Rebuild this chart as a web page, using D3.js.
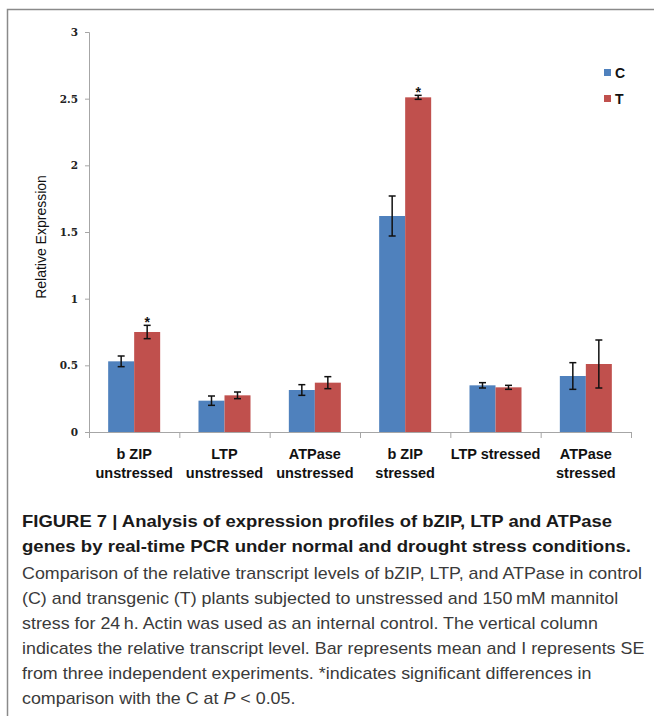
<!DOCTYPE html>
<html>
<head>
<meta charset="utf-8">
<script src="https://cdn.jsdelivr.net/npm/d3@7"></script>
<style>
  body { margin: 0; background: #fff; }
  svg { display: block; }
</style>
</head>
<body>
<svg id="fig" width="654" height="716"></svg>
<script>
// chart values
const categories = ['b ZIP unstressed', 'LTP unstressed', 'ATPase unstressed', 'b ZIP stressed', 'LTP stressed', 'ATPase stressed']
const categoryLines = [['b ZIP', 'unstressed'], ['LTP', 'unstressed'], ['ATPase', 'unstressed'], ['b ZIP', 'stressed'], ['LTP stressed'], ['ATPase', 'stressed']]
const seriesNames = ['C', 'T']
const valuesC = [0.53, 0.235, 0.315, 1.62, 0.35, 0.42]
const errorsC = [0.04, 0.035, 0.04, 0.15, 0.02, 0.10]
const valuesT = [0.75, 0.275, 0.37, 2.51, 0.335, 0.51]
const errorsT = [0.05, 0.025, 0.045, 0.015, 0.015, 0.18]
const significant = [true, false, false, true, false, false]
const yTicks = [0, 0.5, 1, 1.5, 2, 2.5, 3]

const captionBold = [
  'FIGURE 7 | Analysis of expression profiles of bZIP, LTP and ATPase',
  'genes by real-time PCR under normal and drought stress conditions.'
]
const captionBody = [
  'Comparison of the relative transcript levels of bZIP, LTP, and ATPase in control',
  '(C) and transgenic (T) plants subjected to unstressed and 150\u2009mM mannitol',
  'stress for 24\u2009h. Actin was used as an internal control. The vertical column',
  'indicates the relative transcript level. Bar represents mean and I represents SE',
  'from three independent experiments. *indicates significant differences in',
  'comparison with the C at <tspan font-style="italic">P</tspan> &lt; 0.05.'
]

const colors = { C: '#4f81bd', T: '#c0504d' }
const svg = d3.select('#fig')

// frame
svg.append('path')
  .attr('d', 'M7.5,716 V9.5 H654')
  .attr('fill', 'none').attr('stroke', '#8a8a8a').attr('stroke-width', 1.5)

const plotLeft = 89, plotRight = 631, plotTop = 32, plotBottom = 432

const x0 = d3.scaleBand().domain(categories).range([plotLeft, plotRight]).padding(0)
const x1 = d3.scaleBand().domain(seriesNames).range([0, x0.bandwidth()]).paddingInner(0).paddingOuter(0.737)
const y = d3.scaleLinear().domain([0, 3]).range([plotBottom, plotTop])

const rows = categories.map((c, i) => ({
  cat: c,
  bars: [
    { s: 'C', v: valuesC[i], e: errorsC[i] },
    { s: 'T', v: valuesT[i], e: errorsT[i] }
  ],
  sig: significant[i]
}))

// y axis
const yAxis = svg.append('g').attr('transform', `translate(${plotLeft},0)`)
  .call(d3.axisLeft(y).tickValues(yTicks).tickFormat(d => d).tickSize(4).tickPadding(7))
yAxis.select('.domain').attr('stroke', '#a6a6a6')
yAxis.selectAll('.tick line').attr('stroke', '#a6a6a6')
yAxis.selectAll('.tick text')
  .attr('font-family', '"DejaVu Serif", "Liberation Serif", serif')
  .attr('font-weight', 'bold').attr('font-size', 10.5).attr('fill', '#222')

// x axis with ticks on category boundaries
const xg = svg.append('g')
xg.append('line').attr('x1', plotLeft).attr('x2', plotRight).attr('y1', plotBottom + 0.5).attr('y2', plotBottom + 0.5)
  .attr('stroke', '#a6a6a6')
xg.selectAll('line.tk').data(categories.concat(['end']))
  .join('line').attr('class', 'tk')
  .attr('x1', (d, i) => i < categories.length ? x0(d) + 0.5 : plotRight + 0.5)
  .attr('x2', (d, i) => i < categories.length ? x0(d) + 0.5 : plotRight + 0.5)
  .attr('y1', plotBottom).attr('y2', plotBottom + 6)
  .attr('stroke', '#a6a6a6')

xg.selectAll('text.cat').data(rows)
  .join('text').attr('class', 'cat')
  .attr('x', d => x0(d.cat) + x0.bandwidth() / 2)
  .attr('y', 459)
  .attr('text-anchor', 'middle')
  .attr('font-family', '"Liberation Sans", Arial, sans-serif')
  .attr('font-weight', 'bold').attr('font-size', 14.5).attr('fill', '#111')
  .each(function (d, i) {
    d3.select(this).selectAll('tspan').data(categoryLines[i]).join('tspan')
      .attr('x', x0(d.cat) + x0.bandwidth() / 2)
      .attr('dy', (t, j) => j === 0 ? 0 : 18.5)
      .text(t => t)
  })

// bars
const groups = svg.selectAll('g.grp').data(rows).join('g').attr('class', 'grp')
  .attr('transform', d => `translate(${x0(d.cat)},0)`)

groups.selectAll('rect').data(d => d.bars).join('rect')
  .attr('x', d => x1(d.s))
  .attr('y', d => y(d.v))
  .attr('width', x1.bandwidth())
  .attr('height', d => y(0) - y(d.v))
  .attr('fill', d => colors[d.s])

// error bars
const eb = groups.selectAll('g.err').data(d => d.bars).join('g').attr('class', 'err')
  .attr('stroke', '#111').attr('stroke-width', 1.5)
eb.append('line')
  .attr('x1', d => x1(d.s) + x1.bandwidth() / 2).attr('x2', d => x1(d.s) + x1.bandwidth() / 2)
  .attr('y1', d => y(d.v + d.e)).attr('y2', d => y(d.v - d.e))
eb.append('line')
  .attr('x1', d => x1(d.s) + x1.bandwidth() / 2 - 3.5).attr('x2', d => x1(d.s) + x1.bandwidth() / 2 + 3.5)
  .attr('y1', d => y(d.v + d.e)).attr('y2', d => y(d.v + d.e))
eb.append('line')
  .attr('x1', d => x1(d.s) + x1.bandwidth() / 2 - 3.5).attr('x2', d => x1(d.s) + x1.bandwidth() / 2 + 3.5)
  .attr('y1', d => y(d.v - d.e)).attr('y2', d => y(d.v - d.e))

// significance marks
groups.filter(d => d.sig).append('text')
  .attr('x', d => x1('T') + x1.bandwidth() / 2)
  .attr('y', d => y(d.bars[1].v + d.bars[1].e) + 2)
  .attr('text-anchor', 'middle')
  .attr('font-family', '"Liberation Sans", Arial, sans-serif')
  .attr('font-weight', 'bold').attr('font-size', 14).attr('fill', '#111')
  .text('*')

// y label
svg.append('text')
  .attr('transform', 'translate(46,237) rotate(-90)')
  .attr('text-anchor', 'middle')
  .attr('font-family', '"Liberation Sans", Arial, sans-serif')
  .attr('font-size', 14).attr('fill', '#111')
  .text('Relative Expression')

// legend
const legend = svg.append('g').attr('transform', 'translate(604,69)')
legend.selectAll('g').data(seriesNames).join('g')
  .attr('transform', (d, i) => `translate(0,${i * 26})`)
  .each(function (d) {
    const g = d3.select(this)
    g.append('rect').attr('width', 7).attr('height', 7).attr('fill', colors[d])
    g.append('text').attr('x', 11).attr('y', 9)
      .attr('font-family', '"Liberation Sans", Arial, sans-serif')
      .attr('font-weight', 'bold').attr('font-size', 14).attr('fill', '#111')
      .text(d)
  })

// caption
const cap = svg.append('g').attr('font-family', '"Liberation Sans", Arial, sans-serif')
const boldWidths = [590, 609]
captionBold.forEach((t, i) => {
  cap.append('text').attr('x', 22).attr('y', 527 + i * 25)
    .attr('font-weight', 'bold').attr('font-size', 17).attr('fill', '#1a1a1a')
    .attr('textLength', boldWidths[i]).attr('lengthAdjust', 'spacingAndGlyphs')
    .text(t)
})
const bodyTexts = captionBody.map((t, i) => cap.append('text').attr('x', 22).attr('y', 579 + i * 25)
  .attr('font-size', 17).attr('fill', '#3a3a3a').html(t))
const natural = bodyTexts[0].node().getComputedTextLength()
const sx = 620 / natural
bodyTexts.forEach(t => {
  const w = t.node().getComputedTextLength()
  t.attr('textLength', w * sx).attr('lengthAdjust', 'spacingAndGlyphs')
})
</script>
</body>
</html>
